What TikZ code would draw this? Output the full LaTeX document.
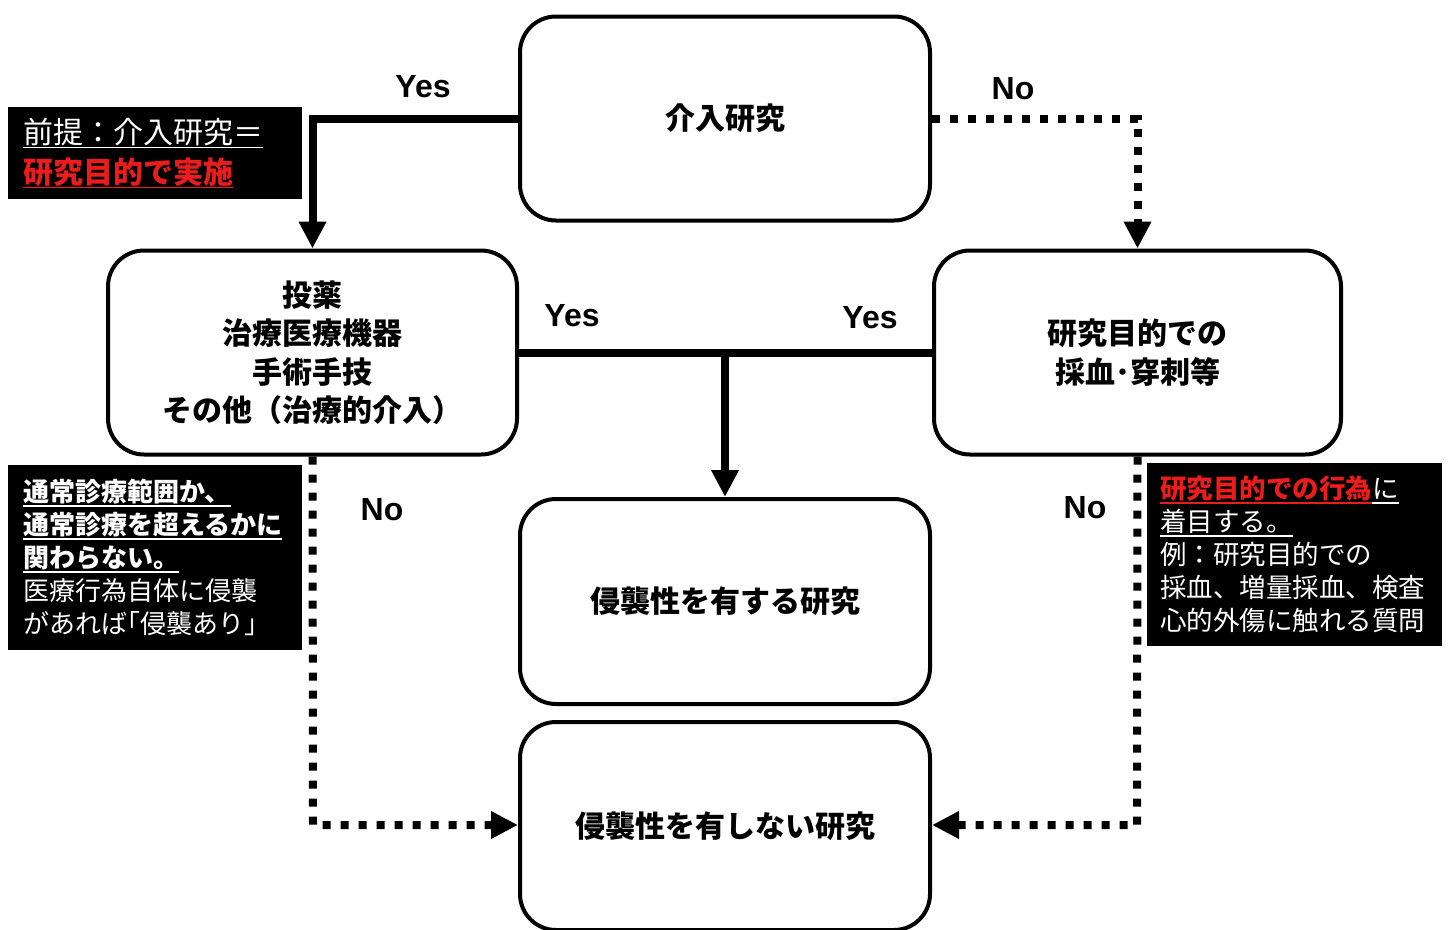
\documentclass[tikz,border=0pt]{standalone}
\usepackage{fontspec}
\setmainfont{Noto Sans CJK JP}
\newfontfamily\lat{Liberation Sans}
\usetikzlibrary{arrows.meta}
\definecolor{hired}{RGB}{235,28,28}
\newcommand\myul[1]{\leavevmode\setbox0\hbox{#1}\rlap{\rule[-5pt]{\wd0}{1.8pt}}\box0}
\begin{document}
\begin{tikzpicture}[x=1pt,y=-1pt,
  flowbox/.style={draw, line width=4pt, rounded corners=36pt, minimum width=410pt,
    minimum height=204pt, align=center, inner sep=0pt,
    font=\fontsize{30}{38.5}\selectfont\bfseries},
  blackbox/.style={fill=black, text=white, align=left, inner xsep=15pt, inner ysep=0pt,
    anchor=north west},
  conn/.style={line width=8pt, -{Triangle[width=26pt,length=27pt]}},
  solidline/.style={line width=8pt},
  dotconn/.style={line width=8pt, dash pattern=on 8pt off 10pt, -{Triangle[width=26pt,length=27pt]}},
  yn/.style={font=\lat\bfseries\fontsize{32}{32}\selectfont}
]
\useasboundingbox (0,0) rectangle (1448,929);
\fill[white] (0,0) rectangle (1448,929);

% main boxes
\node[flowbox] (top) at (725,118.5) {介入研究};
\node[flowbox, minimum width=409pt] (left) at (312.5,352.5) {投薬\\治療医療機器\\手術手技\\その他（治療的介入）};
\node[flowbox, minimum width=407pt] (right) at (1137.5,352.5) {研究目的での\\採血･穿刺等};
\node[flowbox, minimum height=205pt] (mid) at (725,601.5) {侵襲性を有する研究};
\node[flowbox, minimum height=208pt] (bot) at (725,826) {侵襲性を有しない研究};

% connectors
\draw[conn] (top.west) -| (left.north);
\draw[dotconn] (top.east) -| (right.north);
\draw[solidline] (left.east) -- (right.west);
\draw[conn] (left.east -| mid.north) -- (mid.north);
\coordinate (lc) at (313,825);
\coordinate (rc) at (1137,825);
\draw[dotconn] (left.south) -- (lc) -- (lc -| bot.west);
\draw[dotconn] (right.south) -- (rc) -- (rc -| bot.east);

% labels
\node[yn] (y1) at (423,87) {Yes};
\node[yn] (n1) at (1013,89) {No};
\node[yn] (y2) at (572,316) {Yes};
\node[yn] (y3) at (870,318) {Yes};
\node[yn] (n2) at (382,510) {No};
\node[yn] (n3) at (1085,508) {No};

% black annotation boxes
\node[blackbox, text width=264pt, minimum height=92pt,
  font=\fontsize{30}{40}\selectfont] (note1) at (8,107)
  {\myul{前提：介入研究＝}\\{\bfseries\color{hired}\myul{研究目的で実施}}};
\node[blackbox, text width=264pt, minimum height=185pt,
  font=\fontsize{26}{33}\selectfont] (note2) at (8,465)
  {{\bfseries\myul{通常診療範囲か、}}\\{\bfseries\myul{通常診療を超えるかに}}\\{\bfseries\myul{関わらない。}}\\医療行為自体に侵襲\\があれば｢侵襲あり｣};
\node[blackbox, inner xsep=13pt, text width=269pt, minimum height=183pt,
  font=\fontsize{26.5}{33}\selectfont] (note3) at (1147,463)
  {{\bfseries\color{hired}\myul{研究目的での行為}}\myul{に}\\\myul{着目する。}\\例：研究目的での\\採血、増量採血、検査\\心的外傷に触れる質問};
\end{tikzpicture}
\end{document}
